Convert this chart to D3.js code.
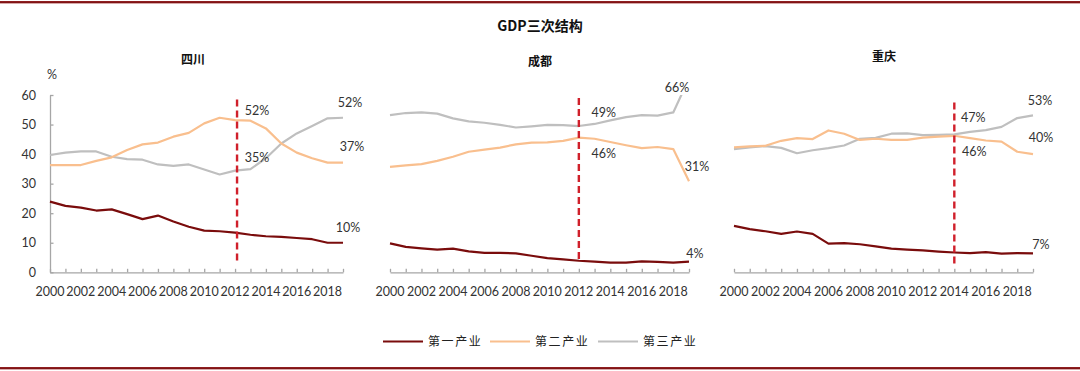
<!DOCTYPE html>
<html>
<head>
<meta charset="utf-8">
<script src="https://cdn.jsdelivr.net/npm/d3@7"></script>
<style>
  body { margin: 0; background: #fff; }
  svg { display: block; }
  text { font-family: Lato, "Noto Sans CJK SC", sans-serif; fill: #333; }
  .cjk { font-family: "Noto Sans CJK SC", sans-serif; }
</style>
</head>
<body>
<div id="chart"></div>
<script>
// Categories
var years = [2000, 2001, 2002, 2003, 2004, 2005, 2006, 2007, 2008, 2009,
             2010, 2011, 2012, 2013, 2014, 2015, 2016, 2017, 2018, 2019];
var yTicks = [0, 10, 20, 30, 40, 50, 60];
var xTickLabels = [2000, 2002, 2004, 2006, 2008, 2010, 2012, 2014, 2016, 2018];
var seriesNames = ["第一产业", "第二产业", "第三产业"];
var panelNames = ["四川", "成都", "重庆"];

// Sichuan (%)
var scPrimary   = [23.9, 22.5, 21.9, 20.9, 21.3, 19.7, 18.0, 19.2, 17.2, 15.4,
                   14.1, 13.9, 13.4, 12.7, 12.2, 12.0, 11.6, 11.2, 10.0, 10.0];
var scSecondary = [36.3, 36.3, 36.3, 37.7, 38.9, 41.4, 43.3, 43.9, 45.9, 47.2,
                   50.4, 52.3, 51.5, 51.3, 48.7, 43.6, 40.5, 38.6, 37.1, 37.1];
var scTertiary  = [39.7, 40.5, 40.9, 40.9, 39.1, 38.3, 38.1, 36.5, 36.0, 36.5,
                   34.8, 33.1, 34.4, 34.9, 38.6, 43.6, 47.0, 49.5, 52.1, 52.3];

// Chengdu (%)
var cdPrimary   = [9.8, 8.6, 8.1, 7.7, 8.0, 7.1, 6.6, 6.6, 6.4, 5.6,
                   4.8, 4.4, 3.9, 3.6, 3.3, 3.3, 3.7, 3.5, 3.3, 3.6];
var cdSecondary = [35.7, 36.2, 36.6, 37.7, 39.1, 40.8, 41.5, 42.2, 43.3, 43.9,
                   44.0, 44.5, 45.6, 45.2, 44.1, 43.0, 42.0, 42.4, 41.7, 30.8];
var cdTertiary  = [53.2, 53.9, 54.1, 53.7, 52.1, 51.1, 50.6, 49.9, 49.0, 49.4,
                   49.9, 49.8, 49.5, 50.2, 51.4, 52.5, 53.2, 53.0, 54.1, 65.6];

// Chongqing (%)
var cqPrimary   = [15.7, 14.6, 13.9, 13.0, 13.8, 13.0, 9.7, 9.9, 9.5, 8.8,
                   8.0, 7.7, 7.4, 7.0, 6.7, 6.5, 6.8, 6.3, 6.5, 6.4];
var cqSecondary = [42.3, 42.6, 42.8, 44.5, 45.4, 45.1, 48.0, 46.9, 44.8, 45.2,
                   44.8, 44.8, 45.6, 45.9, 46.2, 45.4, 44.6, 44.2, 40.8, 40.0];
var cqTertiary  = [41.7, 42.3, 42.7, 42.1, 40.3, 41.3, 42.0, 42.9, 45.2, 45.5,
                   46.9, 47.0, 46.4, 46.5, 46.7, 47.5, 48.1, 49.2, 52.2, 53.1];

// Marker year (dashed line) and value labels: [text, series index, year]
var markYears = [2012, 2012, 2014];
var scLabels = [["52%", 1, 2012], ["35%", 2, 2012], ["52%", 2, 2019], ["37%", 1, 2019], ["10%", 0, 2019]];
var cdLabels = [["49%", 2, 2012], ["46%", 1, 2012], ["66%", 2, 2019], ["31%", 1, 2019], ["4%", 0, 2019]];
var cqLabels = [["47%", 2, 2014], ["46%", 1, 2014], ["53%", 2, 2019], ["40%", 1, 2019], ["7%", 0, 2019]];

var colors = ["#7a0c0c", "#f9bf8e", "#bfbfbf"];
var svgWidth = 1080, svgHeight = 371;

var svg = d3.select("#chart").append("svg")
  .attr("width", svgWidth)
  .attr("height", svgHeight);

// frame lines top and bottom
[1, 367].forEach(function (y) {
  svg.append("rect").attr("x", 0).attr("y", y).attr("width", svgWidth).attr("height", 2.4).attr("fill", "#9b2a2a");
  svg.append("rect").attr("x", 0).attr("y", y + 0.6).attr("width", svgWidth).attr("height", 1.2).attr("fill", "#7a0f12");
});

svg.append("text")
  .attr("class", "cjk")
  .attr("x", 540).attr("y", 31)
  .attr("text-anchor", "middle")
  .attr("font-size", "14px")
  .attr("font-weight", "bold")
  .style("fill", "#111")
  .text("GDP三次结构");

var panels = [
  { name: panelNames[0], x0: 50, x1: 343, titleX: 193, titleY: 64, data: [scPrimary, scSecondary, scTertiary], labels: scLabels, mark: markYears[0], showY: true,
    offsets: [[22, -10], [22, -13], [7, -15], [9, -16], [5, -15]], dash: [58.5, 3.5], dashShift: 2 },
  { name: panelNames[1], x0: 390, x1: 689, titleX: 540, titleY: 66, data: [cdPrimary, cdSecondary, cdTertiary], labels: cdLabels, mark: markYears[1], showY: false,
    offsets: [[25, -14], [25, 16], [-12, -8], [8, -15], [6, -8]], dash: [59, 3.5], dashShift: 0 },
  { name: panelNames[2], x0: 734, x1: 1033, titleX: 884, titleY: 61, data: [cqPrimary, cqSecondary, cqTertiary], labels: cqLabels, mark: markYears[2], showY: false,
    offsets: [[19, -17], [20, 16], [7, -15], [8, -17], [8, -9]], dash: [57.5, 1.8], dashShift: 0 }
];

var yScale = d3.scaleLinear().domain([0, 60]).range([272.3, 95]);

panels.forEach(function (p, pi) {
  var xScale = d3.scaleLinear().domain([2000, 2019]).range([p.x0, p.x1]);
  var g = svg.append("g");

  // panel title
  g.append("text")
    .attr("class", "cjk")
    .attr("x", p.titleX).attr("y", p.titleY)
    .attr("text-anchor", "middle")
    .attr("font-size", "12px")
    .attr("font-weight", "bold")
    .style("fill", "#111")
    .text(p.name);

  // x axis
  var xAxis = d3.axisBottom(xScale).tickValues(years).tickSizeInner(-3.5).tickSizeOuter(0).tickFormat("");
  var xg = g.append("g").attr("transform", "translate(0," + yScale(0) + ")").call(xAxis);
  xg.selectAll("path, line").attr("stroke", "#a6a6a6").attr("stroke-width", 1.3);

  g.selectAll(".xlab")
    .data(xTickLabels)
    .enter()
    .append("text")
    .attr("x", function (d) { return xScale(d); })
    .attr("y", 296)
    .attr("text-anchor", "middle")
    .attr("font-size", "12.5px")
    .text(function (d) { return d; });

  // y axis (first panel only)
  if (p.showY) {
    var yAxis = d3.axisLeft(yScale).tickValues(yTicks).tickSizeInner(-3.5).tickSizeOuter(0).tickFormat("");
    var yg = g.append("g").attr("transform", "translate(" + p.x0 + ",0)").call(yAxis);
    yg.selectAll("path, line").attr("stroke", "#a6a6a6").attr("stroke-width", 1.3);
    g.selectAll(".ylab")
      .data(yTicks)
      .enter()
      .append("text")
      .attr("x", 36)
      .attr("y", function (d) { return yScale(d) + 4.5; })
      .attr("text-anchor", "end")
      .attr("font-size", "12.5px")
      .text(function (d) { return d; });
    g.append("text")
      .attr("x", 52).attr("y", 79)
      .attr("text-anchor", "middle")
      .attr("font-size", "12.5px")
      .text("%");
  }

  // clip to plot area
  var clipId = "clip" + pi;
  svg.append("clipPath").attr("id", clipId)
    .append("rect")
    .attr("x", p.x0 - 2).attr("y", yScale(60))
    .attr("width", p.x1 - p.x0 + 4).attr("height", yScale(0) - yScale(60));

  var line = d3.line()
    .x(function (d, i) { return xScale(years[i]); })
    .y(function (d) { return yScale(d); });

  // draw tertiary, secondary, then primary on top
  [2, 1, 0].forEach(function (s) {
    g.append("path")
      .datum(p.data[s])
      .attr("clip-path", "url(#" + clipId + ")")
      .attr("fill", "none")
      .attr("stroke", colors[s])
      .attr("stroke-width", 2.2)
      .attr("stroke-linejoin", "round")
      .attr("d", line);
  });

  // dashed marker
  var mx = xScale(p.mark) + p.dashShift;
  g.append("line")
    .attr("x1", mx).attr("x2", mx)
    .attr("y1", yScale(p.dash[0])).attr("y2", yScale(p.dash[1]))
    .attr("stroke", "#d0202b")
    .attr("stroke-width", 2.4)
    .attr("stroke-dasharray", "7,4");

  // value labels
  p.labels.forEach(function (l, li) {
    var idx = years.indexOf(l[2]);
    var v = Math.min(p.data[l[1]][idx], 60);
    g.append("text")
      .attr("x", xScale(l[2]) + p.offsets[li][0])
      .attr("y", yScale(v) + p.offsets[li][1] + 4.5)
      .attr("text-anchor", "middle")
      .attr("font-size", "12.5px")
      .text(l[0]);
  });
});

// legend
var legendX = [383, 490, 598];
seriesNames.forEach(function (name, i) {
  svg.append("line")
    .attr("x1", legendX[i]).attr("x2", legendX[i] + 40)
    .attr("y1", 341.5).attr("y2", 341.5)
    .attr("stroke", colors[i])
    .attr("stroke-width", 2.2);
  svg.append("text")
    .attr("class", "cjk")
    .attr("x", legendX[i] + 45).attr("y", 346)
    .attr("font-size", "12px")
    .attr("letter-spacing", "1.6px")
    .style("fill", "#222")
    .text(name);
});
</script>
</body>
</html>
